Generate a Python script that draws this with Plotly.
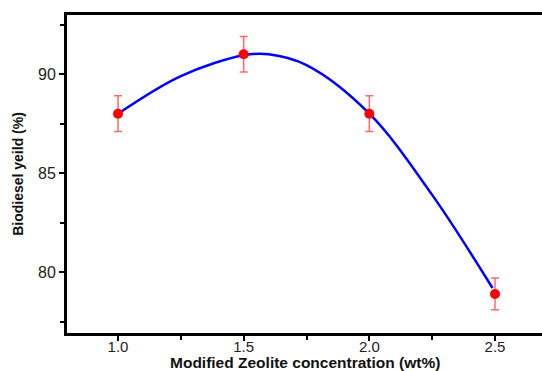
import plotly.graph_objects as go

# measured data
conc = [1.0, 1.5, 2.0, 2.5]
yield_pct = [88.0, 91.0, 88.0, 78.9]
yield_err = [0.9, 0.9, 0.9, 0.8]

# fitted curve
fit_x = [1.0, 1.25, 1.5, 1.6, 1.75, 2.0, 2.25, 2.49]
fit_y = [88.0, 89.9, 90.95, 91.0, 90.45, 88.0, 83.9, 79.2]

x_ticks = [1.0, 1.5, 2.0, 2.5]
x_tick_text = ["1.0", "1.5", "2.0", "2.5"]
y_ticks = [80, 85, 90]

fig = go.Figure()
fig.add_trace(go.Scatter(
    x=fit_x, y=fit_y, mode="lines",
    line=dict(color="#0000ff", width=2.5, shape="spline", smoothing=1.0),
    hoverinfo="skip", showlegend=False))
fig.add_trace(go.Scatter(
    x=conc, y=yield_pct, mode="markers",
    marker=dict(color="#ff0000", size=10,
                line=dict(width=0)),
    error_y=dict(type="data", array=yield_err, visible=True,
                 color="#ff6a6a", thickness=1.5, width=4),
    showlegend=False))

xtick_font = dict(family="Liberation Sans, Arial, sans-serif", size=15, color="#222222")
ytick_font = dict(family="Liberation Sans, Arial, sans-serif", size=16, color="#222222")
ytitle_font = dict(family="Liberation Sans, Arial, sans-serif", size=14, color="#111111")
xtitle_font = dict(family="Liberation Sans, Arial, sans-serif", size=15.5, color="#111111")

fig.update_layout(
    width=542, height=371,
    margin=dict(l=67, r=0, t=15, b=38),
    paper_bgcolor="white", plot_bgcolor="white",
    xaxis=dict(range=[0.797, 2.687], tickvals=x_ticks, ticktext=x_tick_text,
               ticks="outside", ticklen=5, tickwidth=1.5, tickcolor="black",
               ticklabelposition="outside", ticklabelstandoff=-7,
               minor=dict(dtick=0.25, ticks="outside", ticklen=4, tickwidth=1.5, tickcolor="black"),
               showline=True, linewidth=3, linecolor="black", mirror=True,
               showgrid=False, zeroline=False, tickfont=xtick_font),
    yaxis=dict(range=[76.93, 92.98], tickvals=y_ticks,
               ticks="outside", ticklen=5, tickwidth=1.5, tickcolor="black",
               minor=dict(tickvals=[77.5, 82.5, 87.5, 92.5], ticks="outside", ticklen=4, tickwidth=1.5, tickcolor="black"),
               showline=True, linewidth=3, linecolor="black", mirror=False,
               showgrid=False, zeroline=False, tickfont=ytick_font,
               title=dict(text="<b>Biodiesel yeild (%)</b>", font=ytitle_font, standoff=12)),
    annotations=[dict(text="<b>Modified Zeolite concentration (wt%)</b>",
                      xref="paper", yref="paper", x=0.5, y=0,
                      xanchor="center", yanchor="top", yshift=-19,
                      showarrow=False, font=xtitle_font)],
)

fig.write_html("out.html")
